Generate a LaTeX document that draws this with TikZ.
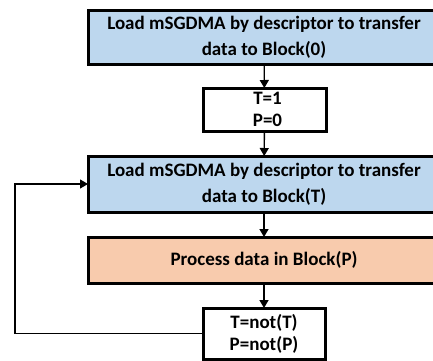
\documentclass[tikz,border=0pt]{standalone}
\usepackage{fontspec}
\setmainfont{Carlito}
\usetikzlibrary{arrows.meta}
\definecolor{boxblue}{HTML}{BDD7EE}
\definecolor{boxorange}{HTML}{F8CBAD}
\tikzset{
  box/.style={draw=black, line width=3pt, rectangle, inner sep=0pt, outer sep=0pt,
    align=center, font=\fontsize{19}{26}\selectfont\bfseries},
  smallbox/.style={box, font=\fontsize{19}{22}\selectfont\bfseries},
  conn/.style={line width=1.4pt, -{Triangle[length=8pt,width=9pt]}},
}
\begin{document}
\begin{tikzpicture}[x=1pt,y=-1pt]
\path[use as bounding box, clip] (0,0) rectangle (433,360);
\node[box, fill=boxblue, minimum width=352pt, minimum height=54pt] (b1) at (264,37)
  {Load mSGDMA by descriptor to transfer\\data to Block(0)};
\node[smallbox, fill=white, minimum width=123pt, minimum height=43pt] (s1) at (264.5,109.5)
  {\hspace*{6pt}T=1\\\hspace*{6pt}P=0};
\node[box, fill=boxblue, minimum width=352pt, minimum height=56pt] (b3) at (264,184)
  {Load mSGDMA by descriptor to transfer\\data to Block(T)};
\node[box, fill=boxorange, minimum width=352pt, minimum height=46pt] (b4) at (264,260)
  {Process data in Block(P)};
\node[smallbox, fill=white, minimum width=122pt, minimum height=51pt] (s5) at (264,333.5)
  {T=not(T)\\P=not(P)};
\coordinate (c1) at (15,333.5);
\coordinate (c2) at (15,184);
\draw[conn] (b1) -- (s1);
\draw[conn] (s1) -- (b3);
\draw[conn] (b3) -- (b4);
\draw[conn] (b4) -- (s5);
\draw[conn, line width=1.2pt] (s5.west) -- (c1) -- (c2) -- (b3.west);
\end{tikzpicture}
\end{document}
